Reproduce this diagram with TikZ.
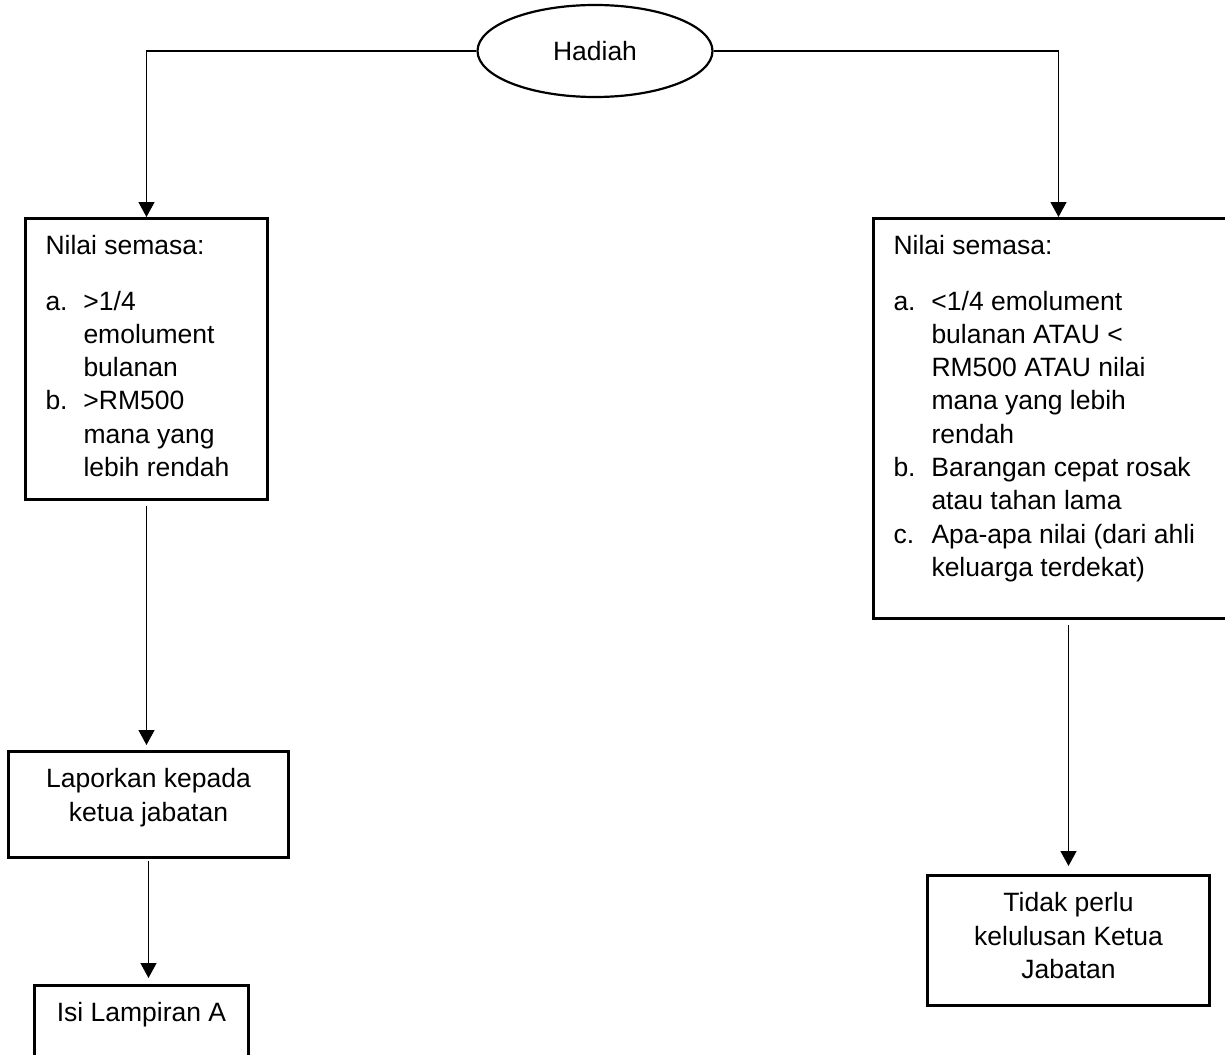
\documentclass[tikz,border=0pt]{standalone}
\usepackage{fontspec}
\setmainfont{Liberation Sans}
\usetikzlibrary{shapes.geometric, arrows.meta, positioning}

\newcommand{\itm}[1]{\makebox[38pt][l]{#1}}

\begin{document}
\begin{tikzpicture}[
    x=1pt, y=-1pt,
    font=\fontsize{26.5}{33.3}\selectfont,
    box/.style={draw, line width=3pt, anchor=north west, inner xsep=20pt, inner ysep=17pt},
    oval/.style={ellipse, draw, line width=2.2pt, minimum width=235pt, minimum height=92pt},
    arr/.style={-{Triangle[length=15pt, width=16pt]}, line width=1.3pt}
  ]
    \useasboundingbox (0,0) rectangle (1225,1054);
    \node[oval] (hadiah) at (595,51) {Hadiah};
    \node[box] (nilaiL) at (24,217) {\parbox[t][247pt][t]{202pt}{Nilai semasa:\\[22pt]
      \itm{a.}>1/4\\ \itm{}emolument\\ \itm{}bulanan\\
      \itm{b.}>RM500\\ \itm{}mana yang\\ \itm{}lebih rendah}};
    \node[box] (nilaiR) at (872,217) {\parbox[t][366pt][t]{330pt}{Nilai semasa:\\[22pt]
      \itm{a.}<1/4 emolument\\ \itm{}bulanan ATAU <\\ \itm{}RM500 ATAU nilai\\
      \itm{}mana yang lebih\\ \itm{}rendah\\
      \itm{b.}Barangan cepat rosak\\ \itm{}atau tahan lama\\
      \itm{c.}Apa-apa nilai (dari ahli\\ \itm{}keluarga terdekat)}};
    \node[box] (lapor) at (7,750) {\parbox[t][72pt][t]{240pt}{\centering
      Laporkan kepada\\ ketua jabatan}};
    \node[box] (isi) at (33,984) {\parbox[t][82pt][t]{174pt}{\centering Isi Lampiran A}};
    \node[box] (tidak) at (926,874) {\parbox[t][96pt][t]{242pt}{\centering
      Tidak perlu\\ kelulusan Ketua\\ Jabatan}};
    % connectors
    \draw[arr] (hadiah.west) -| (nilaiL.north);
    \draw[arr] (hadiah.east) -| (nilaiR.north);
    \draw[arr, shorten <=5pt, shorten >=5pt] (nilaiL.south) -- (nilaiL.south |- lapor.north);
    \draw[arr, shorten <=2pt, shorten >=6pt] (lapor.south) -- (lapor.south |- isi.north);
    \draw[arr, shorten <=5pt, shorten >=8pt] (tidak.north |- nilaiR.south) -- (tidak.north);
  \end{tikzpicture}
\end{document}
